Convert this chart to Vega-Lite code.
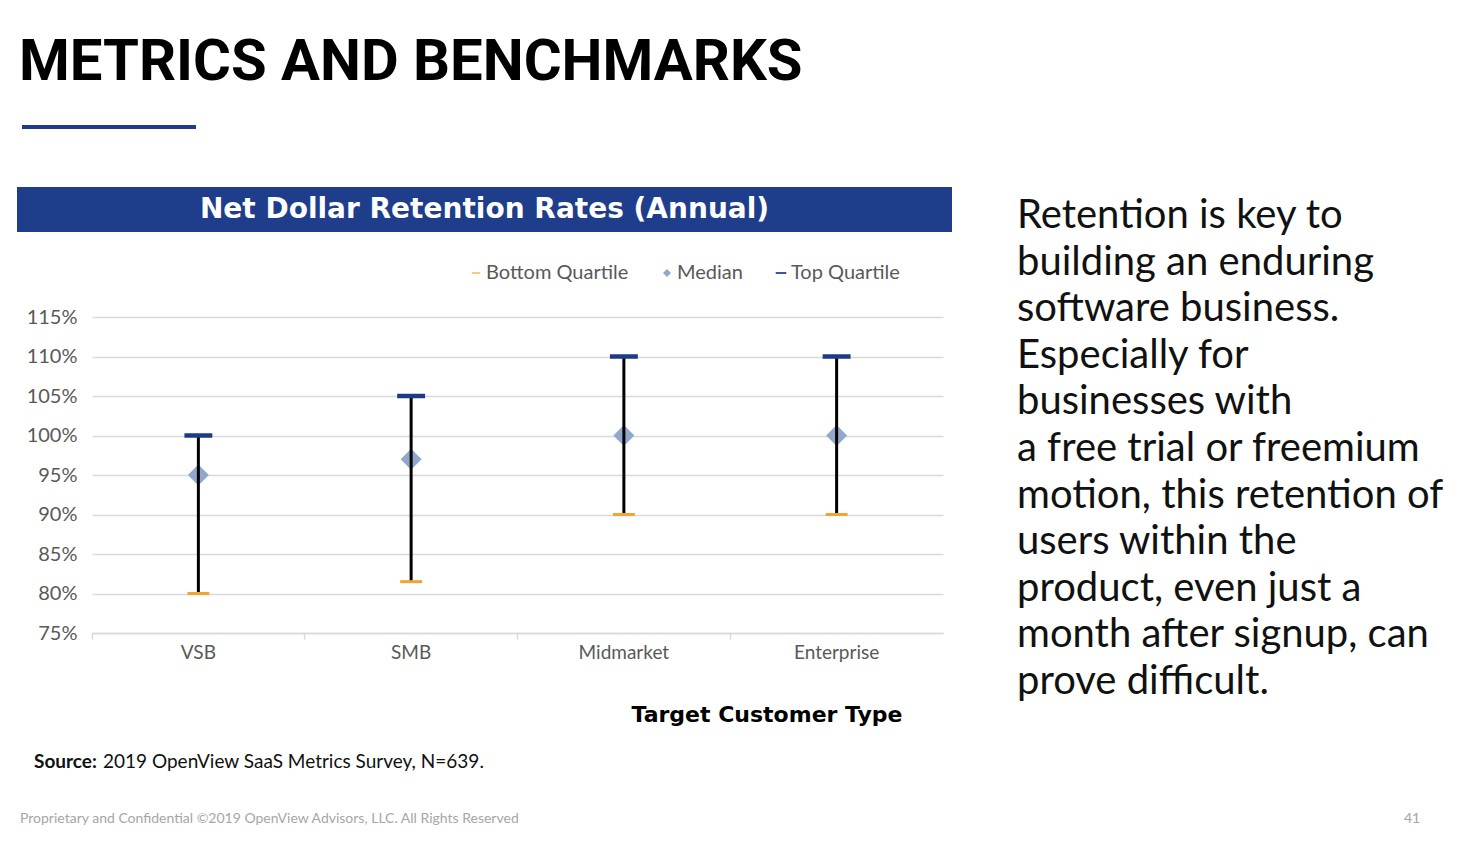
{
  "$schema": "https://vega.github.io/schema/vega-lite/v6.json",
  "padding": {"left": 17, "top": 34, "right": 10, "bottom": 5},
  "background": "white",
  "config": {
    "view": {"stroke": null},
    "font": "Lato",
    "title": {"anchor": "start"}
  },
  "columns": 1,
  "align": "none",
  "spacing": 58,
  "resolve": {"scale": {"color": "independent", "shape": "independent"}},
  "concat": [
    {
      "spacing": 1,
      "hconcat": [
        {"width": 1, "height": 1, "data": {"values": []}, "mark": "point"},
        {
          "title": {"text": "METRICS AND BENCHMARKS", "font": "Roboto", "fontWeight": "bold", "fontSize": 58, "color": "#000000", "offset": 33, "anchor": "start", "dx": -3},
          "width": 174,
          "height": 4,
          "view": {"fill": "#1f3a8f", "stroke": null},
          "data": {"values": []},
          "mark": "point"
        }
      ]
    },
    {
      "columns": 1,
      "align": "none",
      "spacing": 28,
      "resolve": {"scale": {"color": "independent", "shape": "independent"}},
      "concat": [
        {
          "spacing": 65,
          "resolve": {"scale": {"color": "independent", "shape": "independent"}},
          "hconcat": [
            {
              "columns": 1,
              "align": "none",
              "spacing": 31,
              "resolve": {"scale": {"color": "independent", "shape": "independent"}},
              "concat": [
                {
                  "width": 935,
                  "height": 45,
                  "view": {"fill": "#1e3d8a", "stroke": null},
                  "data": {"values": [{"label": "Net Dollar Retention Rates (Annual)"}]},
                  "mark": {"type": "text", "font": "DejaVu Sans", "fontWeight": "bold", "fontSize": 28, "color": "white", "baseline": "middle", "align": "center"},
                  "encoding": {"text": {"field": "label"}}
                },
                {
                  "spacing": 0,
                  "resolve": {"scale": {"color": "independent", "shape": "independent"}},
                  "hconcat": [
                    {"width": 1, "height": 1, "data": {"values": []}, "mark": "point"},
                    {
                      "width": 851,
                      "height": 316,
                      "data": {"values": [
                        {"type": "VSB", "bottom": 80, "median": 95, "top": 100},
                        {"type": "SMB", "bottom": 81.5, "median": 97, "top": 105},
                        {"type": "Midmarket", "bottom": 90, "median": 100, "top": 110},
                        {"type": "Enterprise", "bottom": 90, "median": 100, "top": 110}
                      ]},
                      "encoding": {
                        "x": {
                          "field": "type", "type": "nominal", "sort": null,
                          "scale": {"paddingInner": 0, "paddingOuter": 0},
                          "axis": {
                            "title": "Target Customer Type", "titleFont": "DejaVu Sans", "titleFontWeight": "bold", "titleFontSize": 22, "titleColor": "#000000",
                            "titleAnchor": "end", "titleAlign": "right", "titleX": 810, "titlePadding": 42,
                            "labelAngle": 0, "labelFontSize": 19, "labelColor": "#595959", "labelPadding": 4, "labelFont": "Lato",
                            "domainColor": "#d9d9d9", "domainWidth": 1.5, "tickColor": "#d9d9d9", "tickSize": 6, "tickWidth": 1.5, "bandPosition": 0
                          }
                        }
                      },
                      "layer": [
                        {
                          "transform": [{"fold": ["bottom", "median", "top"], "as": ["series", "value"]}, {"filter": "datum.series == 'median'"}],
                          "mark": {"type": "point", "filled": true, "opacity": 1, "size": 900, "strokeWidth": 0},
                          "encoding": {
                            "y": {
                              "field": "value", "type": "quantitative",
                              "scale": {"domain": [75, 115], "nice": false, "zero": false},
                              "axis": {"title": null, "values": [75, 80, 85, 90, 95, 100, 105, 110, 115], "labelExpr": "datum.value + '%'", "grid": true, "gridColor": "#d9d9d9", "gridWidth": 1.5, "domain": false, "ticks": false, "labelFontSize": 20, "labelColor": "#595959", "labelPadding": 15, "minExtent": 74, "labelFont": "Lato", "labelOverlap": false}
                            },
                            "color": {
                              "field": "series", "type": "nominal",
                              "scale": {"domain": ["bottom", "median", "top"], "range": ["#f0a530", "#8fa8cb", "#1c3a86"]},
                              "legend": {"title": null, "orient": "none", "legendX": 374, "legendY": -54, "direction": "horizontal", "labelFontSize": 20, "labelColor": "#595959", "labelFont": "Lato", "symbolSize": 130, "labelOffset": 0, "columnPadding": 28, "symbolStrokeWidth": 0, "labelExpr": "datum.label == 'bottom' ? 'Bottom Quartile' : datum.label == 'median' ? 'Median' : 'Top Quartile'"}
                            },
                            "shape": {
                              "field": "series", "type": "nominal",
                              "scale": {"domain": ["bottom", "median", "top"], "range": ["M-0.73,-0.1H0.73V0.1H-0.73Z", "M0,-0.7L0.7,0L0,0.7L-0.7,0Z", "M-0.93,-0.15H0.93V0.15H-0.93Z"]}
                            }
                          }
                        },
                        {
                          "mark": {"type": "rule", "color": "#000000", "strokeWidth": 3},
                          "encoding": {
                            "y": {
                              "field": "bottom", "type": "quantitative",
                              "axis": {"title": null, "values": [75, 80, 85, 90, 95, 100, 105, 110, 115], "labelExpr": "datum.value + '%'", "grid": true, "gridColor": "#d9d9d9", "gridWidth": 1.5, "domain": false, "ticks": false, "labelFontSize": 20, "labelColor": "#595959", "labelPadding": 15, "minExtent": 74, "labelFont": "Lato", "labelOverlap": false}
                            },
                            "y2": {"field": "top"}
                          }
                        },
                        {
                          "transform": [{"fold": ["bottom", "median", "top"], "as": ["series", "value"]}, {"filter": "datum.series != 'median'"}],
                          "mark": {"type": "point", "filled": true, "opacity": 1, "size": 900, "strokeWidth": 0},
                          "encoding": {
                            "y": {
                              "field": "value", "type": "quantitative",
                              "axis": {"title": null, "values": [75, 80, 85, 90, 95, 100, 105, 110, 115], "labelExpr": "datum.value + '%'", "grid": true, "gridColor": "#d9d9d9", "gridWidth": 1.5, "domain": false, "ticks": false, "labelFontSize": 20, "labelColor": "#595959", "labelPadding": 15, "minExtent": 74, "labelFont": "Lato", "labelOverlap": false}
                            },
                            "color": {"field": "series", "type": "nominal"},
                            "shape": {"field": "series", "type": "nominal"}
                          }
                        }
                      ]
                    }
                  ]
                }
              ]
            },
            {
              "width": 1,
              "height": 5,
              "data": {"values": []},
              "mark": "point",
              "title": {
                "text": ["Retention is key to", "building an enduring", "software business.", "Especially for", "businesses with", "a free trial or freemium", "motion, this retention of", "users within the", "product, even just a", "month after signup, can", "prove difficult."],
                "orient": "bottom", "anchor": "start", "font": "Lato", "fontSize": 40, "fontWeight": "normal", "color": "#111111", "lineHeight": 46.6, "offset": 4
              }
            }
          ]
        },
        {
          "columns": 1,
          "align": "none",
          "spacing": 35,
          "concat": [
            {
              "spacing": 6,
              "hconcat": [
                {"width": 1, "height": 1, "data": {"values": []}, "mark": "point", "title": {"text": "Source:", "font": "Lato", "fontWeight": "bold", "fontSize": 19, "color": "#111111", "dx": 17}},
                {"width": 1, "height": 1, "data": {"values": []}, "mark": "point", "title": {"text": "2019 OpenView SaaS Metrics Survey, N=639.", "font": "Lato", "fontWeight": "normal", "fontSize": 19, "color": "#111111"}}
              ]
            },
            {
              "spacing": 17,
              "hconcat": [
                {"width": 1370, "height": 1, "data": {"values": []}, "mark": "point", "title": {"text": "Proprietary and Confidential ©2019 OpenView Advisors, LLC. All Rights Reserved", "font": "Lato", "fontWeight": "normal", "fontSize": 14, "color": "#a6a6a6", "dx": 3}},
                {"width": 1, "height": 1, "data": {"values": []}, "mark": "point", "title": {"text": "41", "font": "Lato", "fontWeight": "normal", "fontSize": 14, "color": "#a6a6a6"}}
              ]
            }
          ]
        }
      ]
    }
  ]
}
